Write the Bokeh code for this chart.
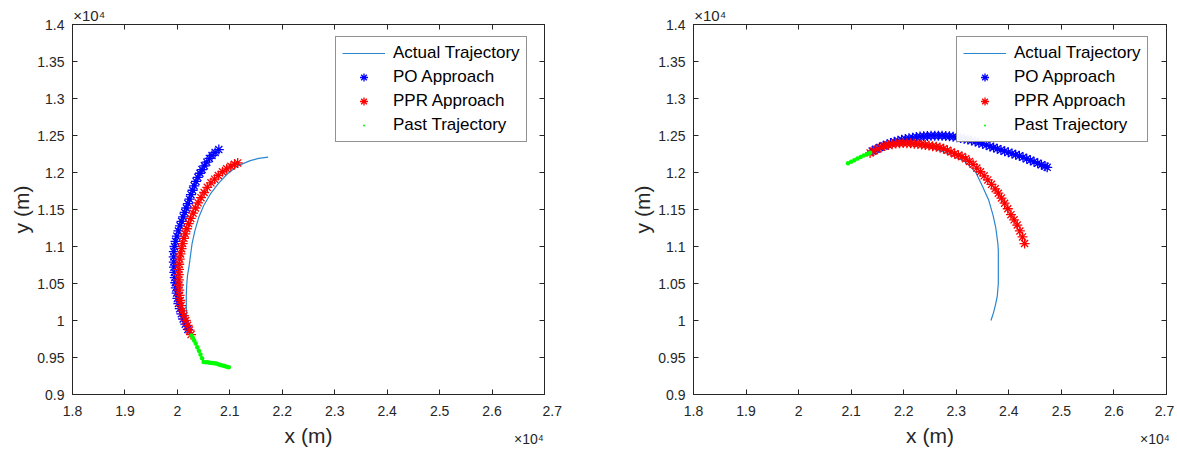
from bokeh.plotting import figure
from bokeh.layouts import row
from bokeh.models import Range1d, FixedTicker, CustomJSTickFormatter, LinearAxis, Legend
from bokeh.embed import file_html
from bokeh.resources import INLINE

# ---------------- data (metres) ----------------
# Left panel
L_actual_x = [20270, 20230, 20200, 20180, 20172, 20170, 20170, 20180, 20195, 20220, 20250, 20280,
              20330, 20410, 20500, 20630, 20780, 20950, 21150, 21390, 21550, 21730]
L_actual_y = [9800, 9880, 9960, 10050, 10150, 10250, 10360, 10500, 10620, 10720, 10880, 11040,
              11200, 11400, 11550, 11710, 11850, 11980, 12090, 12160, 12190, 12207]

L_po_x = [20200, 20150, 20110, 20075, 20045, 20020, 20000, 19985, 19970, 19960, 19950, 19942,
          19936, 19932, 19930, 19932, 19945, 19965, 19990, 20020, 20050, 20080, 20110, 20140,
          20170, 20200, 20230, 20260, 20290, 20320, 20355, 20390, 20430, 20470, 20515, 20560,
          20610, 20660, 20720, 20790]
L_po_y = [9880, 9950, 10020, 10090, 10160, 10230, 10300, 10370, 10440, 10510, 10580, 10650,
          10720, 10790, 10860, 10930, 11000, 11070, 11140, 11210, 11280, 11340, 11400, 11460,
          11520, 11580, 11640, 11700, 11760, 11820, 11880, 11935, 11990, 12040, 12090, 12140,
          12190, 12230, 12270, 12310]

L_ppr_x = [20260, 20230, 20195, 20160, 20125, 20095, 20070, 20055, 20042, 20035, 20030, 20028,
           20028, 20030, 20035, 20045, 20060, 20080, 20100, 20125, 20150, 20180, 20215, 20255,
           20300, 20345, 20395, 20450, 20510, 20570, 20640, 20710, 20780, 20860, 20940, 21020,
           21090, 21150]
L_ppr_y = [9810, 9870, 9935, 10000, 10065, 10130, 10200, 10270, 10340, 10410, 10480, 10550,
           10620, 10690, 10760, 10830, 10900, 10970, 11040, 11110, 11170, 11240, 11310, 11380,
           11450, 11520, 11590, 11660, 11730, 11800, 11860, 11910, 11960, 12010, 12050, 12085,
           12110, 12130]

L_past_x = [20980, 20940, 20900, 20860, 20820, 20780, 20740, 20700, 20660, 20620, 20580, 20540,
            20500, 20470, 20440, 20410, 20380, 20350, 20320, 20295, 20270]
L_past_y = [9369, 9375, 9385, 9392, 9400, 9410, 9418, 9422, 9425, 9430, 9435, 9437,
            9440, 9490, 9540, 9590, 9640, 9690, 9730, 9765, 9797]

# Right panel
R_actual_x = [21360, 21500, 21650, 21800, 21950, 22100, 22250, 22400, 22550, 22700, 22850, 23000,
              23140, 23250, 23370, 23500, 23620, 23700, 23750, 23790, 23800, 23800, 23800, 23780,
              23750, 23710, 23660]
R_actual_y = [12266, 12310, 12345, 12365, 12375, 12378, 12372, 12355, 12330, 12295, 12250, 12200,
              12160, 12090, 12004, 11810, 11620, 11420, 11260, 11050, 10950, 10700, 10500, 10330,
              10226, 10110, 10000]

R_po_x = [21400, 21470, 21540, 21610, 21680, 21750, 21820, 21890, 21960, 22030, 22100, 22170,
          22240, 22310, 22380, 22450, 22520, 22590, 22660, 22730, 22800, 22870, 22940, 23010,
          23080, 23150, 23220, 23290, 23360, 23430, 23500, 23570, 23640, 23710, 23780, 23850,
          23920, 23990, 24060, 24130, 24200, 24270, 24340, 24410, 24480, 24550, 24620, 24690, 24730]
R_po_y = [12290, 12315, 12338, 12360, 12380, 12398, 12414, 12428, 12441, 12452, 12462, 12471,
          12479, 12485, 12490, 12494, 12497, 12498, 12498, 12496, 12493, 12489, 12483, 12475,
          12466, 12456, 12445, 12432, 12418, 12403, 12387, 12370, 12352, 12338, 12320, 12304,
          12288, 12272, 12256, 12240, 12225, 12205, 12185, 12165, 12145, 12125, 12105, 12085, 12070]

R_ppr_x = [21360, 21430, 21500, 21570, 21640, 21710, 21780, 21850, 21920, 21990, 22060, 22130,
           22200, 22270, 22340, 22410, 22480, 22550, 22620, 22690, 22760, 22830, 22900, 22970,
           23040, 23110, 23180, 23250, 23320, 23390, 23460, 23530, 23600, 23670, 23740, 23800,
           23860, 23920, 23980, 24040, 24100, 24160, 24210, 24260, 24300]
R_ppr_y = [12265, 12292, 12318, 12340, 12358, 12372, 12383, 12391, 12395, 12397, 12396, 12394,
           12390, 12385, 12379, 12372, 12364, 12355, 12347, 12338, 12320, 12300, 12278, 12255,
           12233, 12215, 12185, 12150, 12110, 12060, 12010, 11955, 11900, 11840, 11780, 11720,
           11655, 11585, 11510, 11430, 11360, 11290, 11210, 11130, 11040]

R_past_x = [20940, 21000, 21060, 21120, 21180, 21240, 21300, 21360]
R_past_y = [12126, 12145, 12165, 12190, 12210, 12230, 12248, 12266]

x_ticks = [18000, 19000, 20000, 21000, 22000, 23000, 24000, 25000, 26000, 27000]
y_ticks = [9000, 9500, 10000, 10500, 11000, 11500, 12000, 12500, 13000, 13500, 14000]
legend_labels = ["Actual Trajectory", "PO Approach", "PPR Approach", "Past Trajectory"]
exp_label = "×10⁴"

FONT = "Liberation Sans"
AX = "#262626"
NB = "\u00a0"


def make_panel(width, left, right, lead_n, pad_n, ax, ay, px, py, rx, ry, gx, gy):
    p = figure(width=width, height=451, output_backend="svg", toolbar_location=None,
               x_range=Range1d(18000, 27000), y_range=Range1d(9000, 14000),
               min_border_left=left, min_border_right=right,
               min_border_top=24, min_border_bottom=57)
    p.xgrid.visible = False
    p.ygrid.visible = False
    p.outline_line_color = AX
    p.outline_line_width = 1
    yfmt = CustomJSTickFormatter(code="return (tick/10000).toString();")
    # last x tick label carries the exponent two lines lower, right-aligned to the frame edge
    xfmt = CustomJSTickFormatter(args=dict(exp=exp_label, pad=NB * pad_n, lead=NB * lead_n,
                                           last=x_ticks[-1]),
                                 code="""
        const v = (tick/10000).toString();
        if (Math.abs(tick - last) < 1e-6) { return lead + v + "\\n\\n" + exp + pad; }
        return v;
    """)
    for axis, ticks, fmt in ((p.xaxis[0], x_ticks, xfmt), (p.yaxis[0], y_ticks, yfmt)):
        axis.ticker = FixedTicker(ticks=ticks)
        axis.formatter = fmt
        axis.major_tick_in = 5
        axis.major_tick_out = 0
        axis.minor_tick_line_color = None
        axis.axis_line_color = AX
        axis.major_tick_line_color = AX
        axis.major_label_text_font = FONT
        axis.major_label_text_font_size = "14px"
        axis.major_label_text_color = AX
        axis.major_label_standoff = 8
        axis.axis_label_text_font = FONT
        axis.axis_label_text_font_size = "21px"
        axis.axis_label_text_font_style = "normal"
        axis.axis_label_text_color = AX
    p.xaxis[0].major_label_text_line_height = 0.9
    p.xaxis[0].axis_label = "x (m)"
    p.yaxis[0].axis_label = "y (m)"
    p.xaxis[0].axis_label_standoff = -26
    p.yaxis[0].axis_label_standoff = 1
    # mirrored ticks on top/right (labels not painted)
    for loc, ticks in (("above", x_ticks), ("right", y_ticks)):
        a = LinearAxis(ticker=FixedTicker(ticks=ticks), major_tick_in=5, major_tick_out=0,
                       minor_tick_line_color=None, axis_line_color=AX, major_tick_line_color=AX,
                       major_label_text_font_size="1px", major_label_text_color=None,
                       major_label_standoff=0)
        p.add_layout(a, loc)
    # exponent at top-left, as the single label of an extra top axis
    top_exp = LinearAxis(ticker=FixedTicker(ticks=[x_ticks[0]]), major_tick_in=0, major_tick_out=0,
                         minor_tick_line_color=None, axis_line_color=None, major_tick_line_color=None,
                         major_label_overrides={x_ticks[0]: NB * 8 + exp_label},
                         major_label_text_font=FONT, major_label_text_font_size="15px",
                         major_label_text_color=AX, major_label_standoff=1)
    p.add_layout(top_exp, "above")

    r1 = p.line(ax, ay, line_color="#2a86cf", line_width=1.2)
    r2 = p.scatter(px, py, marker="asterisk", size=10, line_color="#0000FF", line_width=1.3)
    r3 = p.scatter(rx, ry, marker="asterisk", size=10, line_color="#FF0000", line_width=1.3)
    p.line(gx, gy, line_color="#00FF00", line_width=1.5)
    r4 = p.scatter(gx, gy, marker="dot", size=18, line_color="#00FF00", fill_color="#00FF00")

    leg = Legend(items=[(legend_labels[0], [r1]), (legend_labels[1], [r2]),
                        (legend_labels[2], [r3]), (legend_labels[3], [r4])],
                 location=(263, 252), margin=0, padding=6, spacing=4,
                 label_height=20, glyph_height=20, glyph_width=43, label_standoff=8,
                 label_text_font=FONT, label_text_font_size="17px", label_text_color="#000000",
                 border_line_color=AX, border_line_width=1, background_fill_color="white")
    p.add_layout(leg, "center")
    return p


p1 = make_panel(600, 72, 56, 4, 8, L_actual_x, L_actual_y, L_po_x, L_po_y, L_ppr_x, L_ppr_y,
                L_past_x, L_past_y)
p2 = make_panel(577, 93, 11, 3, 2, R_actual_x, R_actual_y, R_po_x, R_po_y, R_ppr_x, R_ppr_y,
                R_past_x, R_past_y)

layout = row(p1, p2)
open("out.html", "w").write(file_html(layout, INLINE))
